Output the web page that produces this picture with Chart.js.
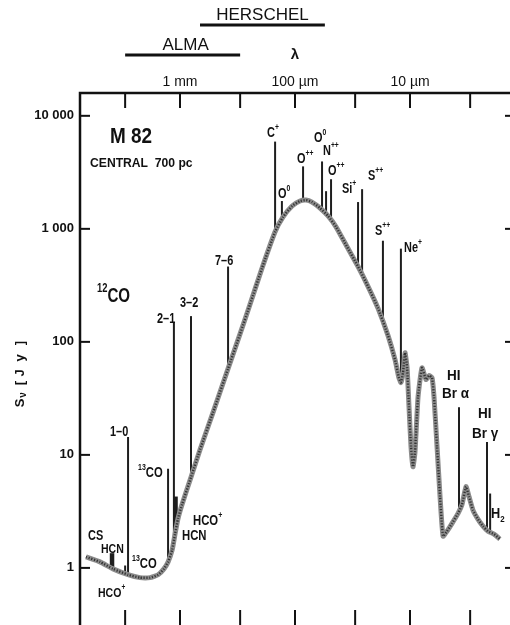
<!DOCTYPE html>
<html>
<head>
<meta charset="utf-8">
<script src="https://cdn.jsdelivr.net/npm/chart.js@4.4.1/dist/chart.umd.min.js"></script>
<style>
  html, body { margin: 0; padding: 0; background: #fff; overflow: hidden; }
  canvas { display: block; }
</style>
</head>
<body>
<canvas id="sed" width="530" height="640"></canvas>
<script>
// M 82 spectrum, wavelength in µm, flux density in Jy
const wavelength = [6570, 4960, 3820, 2830, 2230, 1820, 1550, 1380, 1270, 1170, 1105, 1040, 960, 800, 670, 516, 382, 301, 246, 194,
  149, 127, 106, 90.5, 80.2, 71.2, 60.6, 51.6, 44.0, 35.3, 28.3, 23.2, 19.0, 15.5, 13.5, 12.5, 12.0, 11.5, 11.05, 10.6,
  10.2, 9.8, 9.42, 9.05, 8.52, 7.87, 7.26, 6.84, 6.44, 6.18, 5.82, 5.48, 5.16, 4.77, 4.31, 3.82, 3.53, 3.26, 3.07, 2.83,
  2.56, 2.32, 2.10, 1.86, 1.65];
const flux = [1.25, 1.13, 0.98, 0.87, 0.82, 0.82, 0.87, 0.98, 1.13, 1.44, 1.99, 2.74, 3.64, 6.41, 11.1, 23.8, 58, 117, 215, 446,
  942, 1274, 1592, 1762, 1796, 1726, 1529, 1300, 1042, 695, 464, 310, 199, 113, 69.5, 48.3, 43.7, 53.5, 80.1, 59.1,
  26.4, 11.8, 7.85, 10.6, 32.3, 59.1, 46.4, 50.3, 48.3, 32.3, 11.8, 4.28, 1.91, 2.11, 2.48, 3.04, 3.64, 5.24, 4.28, 3.23,
  2.69, 2.34, 2.11, 1.99, 1.80];

// emission lines: wavelength, continuum level, top of line
const lineWavelength = [3900, 3000, 2830, 1270, 1130, 1094, 802, 382, 149, 130, 85.1, 58.2, 53.7, 48.6, 28.3, 26.1, 17.2, 12.0, 3.75, 2.14, 2.01];
const lineBase = [1.0, 0.88, 0.88, 1.15, 1.5, 2.34, 6.4, 57, 941, 1175, 1762, 1438, 1381, 1175, 464, 403, 141, 46.4, 3.29, 2.2, 2.11];
const linePeak = [1.35, 1.05, 14.4, 7.54, 147, 4.28, 169, 464, 5914, 1762, 3570, 3948, 2154, 2748, 1726, 2244, 785, 668, 26.4, 13.0, 4.55];

const xTicks = [3000, 1000, 300, 100, 30, 10, 3];
const xLabelValues = [1000, 100, 10];
const xLabelText = ["1 mm", "100 µm", "10 µm"];
const yTicks = [1, 10, 100, 1000, 10000];
const yTickText = ["1", "10", "100", "1 000", "10 000"];

const almaRange = [3000, 300];
const herschelRange = [670, 55];

const thickLines = [0, 5];

const FONT = "'Liberation Sans', Arial, sans-serif";

// text labels in the plot: parts, left x, baseline y, size, horizontal squeeze
const notes = [
  { p: [["M 82"]], x: 110, y: 143, s: 22, k: 0.86 },
  { p: [["CENTRAL  700 pc"]], x: 90, y: 167, s: 13.5, k: 0.9 },
  { p: [["12", "sup"], ["CO"]], x: 97, y: 302, s: 21, k: 0.72 },
  { p: [["1–0"]], x: 110, y: 436 },
  { p: [["2–1"]], x: 157, y: 323 },
  { p: [["3–2"]], x: 180, y: 307 },
  { p: [["7–6"]], x: 215, y: 265 },
  { p: [["13", "sup"], ["CO"]], x: 138, y: 477, s: 15, k: 0.75 },
  { p: [["CS"]], x: 88, y: 540 },
  { p: [["HCN"]], x: 101, y: 553, s: 13.5 },
  { p: [["13", "sup"], ["CO"]], x: 132, y: 568, s: 15, k: 0.75 },
  { p: [["HCO"], ["+", "sup"]], x: 98, y: 597, s: 13.5 },
  { p: [["HCO"], ["+", "sup"]], x: 193, y: 525, s: 14.5 },
  { p: [["HCN"]], x: 182, y: 540, s: 14.5 },
  { p: [["C"], ["+", "sup"]], x: 267, y: 137 },
  { p: [["O"], ["0", "sup"]], x: 278, y: 198 },
  { p: [["O"], ["++", "sup"]], x: 297, y: 163 },
  { p: [["O"], ["0", "sup"]], x: 314, y: 142 },
  { p: [["N"], ["++", "sup"]], x: 323, y: 155 },
  { p: [["O"], ["++", "sup"]], x: 328, y: 175 },
  { p: [["Si"], ["+", "sup"]], x: 342, y: 193 },
  { p: [["S"], ["++", "sup"]], x: 368, y: 180 },
  { p: [["S"], ["++", "sup"]], x: 375, y: 235 },
  { p: [["Ne"], ["+", "sup"]], x: 404, y: 252 },
  { p: [["HI"]], x: 447, y: 380, s: 15, k: 0.9 },
  { p: [["Br α"]], x: 442, y: 398, s: 15, k: 0.9 },
  { p: [["HI"]], x: 478, y: 418, s: 15, k: 0.9 },
  { p: [["Br γ"]], x: 472, y: 438, s: 15, k: 0.9 },
  { p: [["H"], ["2", "sub"]], x: 491, y: 518, s: 15, k: 0.85 },
];

function richText(ctx, parts, x, y, size, k) {
  ctx.save();
  ctx.translate(x, y);
  ctx.scale(k, 1);
  ctx.textAlign = "left";
  ctx.textBaseline = "alphabetic";
  let cx = 0;
  parts.forEach(([t, kind]) => {
    const fs = kind ? size * 0.62 : size;
    ctx.font = "bold " + fs + "px " + FONT;
    const dy = kind === "sup" ? -size * 0.5 : kind === "sub" ? size * 0.25 : 0;
    ctx.fillText(t, cx, dy);
    cx += ctx.measureText(t).width;
  });
  ctx.restore();
}

function seg(ctx, x1, y1, x2, y2) {
  ctx.beginPath();
  ctx.moveTo(x1, y1);
  ctx.lineTo(x2, y2);
  ctx.stroke();
}

const sedDecor = {
  id: "sedDecor",
  afterDraw(chart) {
    const ctx = chart.ctx;
    const a = chart.chartArea;
    const xs = chart.scales.x;
    const ys = chart.scales.y;
    ctx.save();
    ctx.strokeStyle = "#111";
    ctx.fillStyle = "#111";

    // frame and inward ticks
    ctx.lineWidth = 2.5;
    ctx.strokeRect(a.left, a.top, a.right - a.left, a.bottom - a.top);
    ctx.lineWidth = 2;
    xTicks.forEach((v) => {
      const px = xs.getPixelForValue(v);
      seg(ctx, px, a.top, px, a.top + 15);
      seg(ctx, px, a.bottom, px, a.bottom - 17);
    });
    yTicks.forEach((v) => {
      const py = ys.getPixelForValue(v);
      seg(ctx, a.left, py, a.left + 10, py);
      seg(ctx, a.right, py, a.right - 10, py);
    });

    // tick labels
    ctx.font = "bold 13px " + FONT;
    ctx.textAlign = "right";
    ctx.textBaseline = "middle";
    yTicks.forEach((v, i) => ctx.fillText(yTickText[i], 74, ys.getPixelForValue(v)));

    ctx.font = "14px " + FONT;
    ctx.textAlign = "center";
    ctx.textBaseline = "alphabetic";
    xLabelValues.forEach((v, i) => ctx.fillText(xLabelText[i], xs.getPixelForValue(v), 86));

    ctx.font = "bold 15px " + FONT;
    ctx.fillText("λ", xs.getPixelForValue(100), 59);

    // instrument ranges
    ctx.lineWidth = 3;
    const a1 = xs.getPixelForValue(almaRange[0]), a2 = xs.getPixelForValue(almaRange[1]);
    const h1 = xs.getPixelForValue(herschelRange[0]), h2 = xs.getPixelForValue(herschelRange[1]);
    seg(ctx, a1, 55, a2, 55);
    seg(ctx, h1, 25, h2, 25);
    ctx.font = "17px " + FONT;
    ctx.fillText("ALMA", (a1 + a2) / 2 + 3, 50);
    ctx.fillText("HERSCHEL", (h1 + h2) / 2, 20);

    // y axis title
    ctx.save();
    ctx.translate(20, 373);
    ctx.rotate(-Math.PI / 2);
    ctx.textAlign = "center";
    ctx.textBaseline = "middle";
    ctx.font = "bold 13px " + FONT;
    ctx.fillText("S", -30, 0);
    ctx.font = "bold 10px " + FONT;
    ctx.fillText("ν", -22, 3);
    ctx.font = "bold 13px " + FONT;
    [["[", -10], ["J", 0], ["y", 15], ["]", 30]].forEach(([c, o]) => ctx.fillText(c, o, 0));
    ctx.restore();

    notes.forEach((n) => richText(ctx, n.p, n.x, n.y, n.s || 14, n.k || 0.78));
    ctx.restore();
  },
};

const points = wavelength.map((l, i) => ({ x: l, y: flux[i] }));

const datasets = [
  { data: points, borderColor: "#333333", borderWidth: 2.4, borderDash: [1.2, 1.6], tension: 0.15, order: 0 },
  { data: points, borderColor: "#8c8c8c", borderWidth: 5, tension: 0.15, order: 1 },
];
lineWavelength.forEach((l, i) => {
  datasets.push({
    data: [{ x: l, y: lineBase[i] }, { x: l, y: linePeak[i] }],
    borderColor: "#1e1e1e",
    borderWidth: thickLines.includes(i) ? 4.5 : 2,
    order: 2,
  });
});

new Chart(document.getElementById("sed"), {
  type: "scatter",
  data: { datasets: datasets },
  options: {
    responsive: false,
    animation: false,
    showLine: true,
    elements: { point: { radius: 0, hoverRadius: 0 } },
    layout: { padding: { left: 80, top: 93, right: 15, bottom: 13 } },
    plugins: { legend: { display: false }, tooltip: { enabled: false } },
    events: [],
    scales: {
      x: { type: "logarithmic", reverse: true, min: 1.222, max: 7406, display: false },
      y: { type: "logarithmic", min: 0.329, max: 15920, display: false },
    },
  },
  plugins: [sedDecor],
});
</script>
</body>
</html>
